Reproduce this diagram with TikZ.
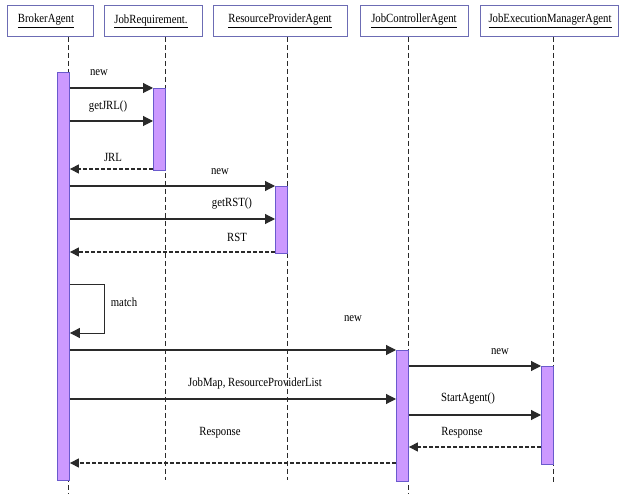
\documentclass[tikz,border=0pt]{standalone}
\usepackage{fontspec}
\setmainfont{Liberation Serif}[FakeStretch=0.86]
\usetikzlibrary{arrows.meta}
\definecolor{barfill}{HTML}{CC99FF}
\definecolor{barline}{HTML}{6A5ACD}
\definecolor{boxline}{HTML}{6C6CB4}
\definecolor{ink}{HTML}{2A2A2A}
\tikzset{
  obj/.style={draw=boxline, line width=0.9pt, fill=white, inner sep=0pt, anchor=north west},
  bar/.style={draw=barline, line width=0.9pt, fill=barfill, inner sep=0pt, anchor=north west, minimum width=12pt},
  life/.style={draw=ink, line width=0.7pt, dash pattern=on 5pt off 3pt},
  msg/.style={draw=ink, line width=1.1pt, -{Triangle[length=10pt,width=10pt]}},
  reply/.style={draw=ink, line width=1.1pt, dash pattern=on 4pt off 2pt, -{Triangle[length=9pt,width=9pt]}},
  lbl/.style={font=\fontsize{12.5}{14}\selectfont, inner sep=0pt, text=black},
}
\begin{document}
\begin{tikzpicture}[x=1pt,y=-1pt]
\useasboundingbox (0,0) rectangle (621,494);
\fill[white] (0,0) rectangle (621,494);

% object boxes
\node[obj, minimum width=86pt, minimum height=31pt] (b1) at (7,5) {};
\node[obj, minimum width=98pt, minimum height=31pt] (b2) at (104,5) {};
\node[obj, minimum width=134pt, minimum height=31pt] (b3) at (213,5) {};
\node[obj, minimum width=108pt, minimum height=31pt] (b4) at (360,5) {};
\node[obj, minimum width=138pt, minimum height=31pt] (b5) at (480,5) {};
\node[lbl] (t1) at (46,21) {\underline{BrokerAgent}};
\node[lbl] (t2) at (151,21) {\underline{JobRequirement.}};
\node[lbl] (t3) at (280,21) {\underline{ResourceProviderAgent}};
\node[lbl] (t4) at (414,21) {\underline{JobControllerAgent}};
\node[lbl] (t5) at (550,21) {\underline{JobExecutionManagerAgent}};

% lifelines
\coordinate (e1) at (68,494);
\coordinate (e2) at (165,480);
\coordinate (e3) at (287,480);
\coordinate (e4) at (408,494);
\coordinate (e5) at (553,482);
\draw[life] (b1.south -| e1) -- (e1);
\draw[life] (b2.south -| e2) -- (e2);
\draw[life] (b3.south -| e3) -- (e3);
\draw[life] (b4.south -| e4) -- (e4);
\draw[life] (b5.south -| e5) -- (e5);

% activation bars
\node[bar, minimum height=408pt] (a1) at (57,72) {};
\node[bar, minimum height=82pt] (a2) at (153,88) {};
\node[bar, minimum height=67pt] (a3) at (275,186) {};
\node[bar, minimum height=131pt] (a4) at (396,350) {};
\node[bar, minimum height=98pt] (a5) at (541,366) {};

% messages
\draw[msg] (a1.east |- 0,88) -- (a2.west |- 0,88);
\node[lbl] (m1) at (99,73) {new};
\draw[msg] (a1.east |- 0,121) -- (a2.west |- 0,121);
\node[lbl] (m2) at (108,107) {getJRL()};
\draw[reply] (a2.west |- 0,169) -- (a1.east |- 0,169);
\node[lbl] (m3) at (113,157) {JRL};
\draw[msg] (a1.east |- 0,186) -- (a3.west |- 0,186);
\node[lbl] (m4) at (220,172) {new};
\draw[msg] (a1.east |- 0,219) -- (a3.west |- 0,219);
\node[lbl] (m5) at (232,204) {getRST()};
\draw[reply] (a3.west |- 0,252) -- (a1.east |- 0,252);
\node[lbl] (m6) at (237,237) {RST};

% self call
\coordinate (k1) at (104,284);
\coordinate (k2) at (104,333);
\draw[msg, line width=0.9pt] (a1.east |- k1) -- (k1) -- (k2) -- (a1.east |- k2);
\node[lbl] (m7) at (124,302) {match};

\draw[msg] (a1.east |- 0,350) -- (a4.west |- 0,350);
\node[lbl] (m8) at (353,319) {new};
\draw[msg] (a1.east |- 0,399) -- (a4.west |- 0,399);
\node[lbl] (m9) at (255,383) {JobMap, ResourceProviderList};
\draw[reply] (a4.west |- 0,463) -- (a1.east |- 0,463);
\node[lbl] (m10) at (220,433) {Response};

\draw[msg] (a4.east |- 0,366) -- (a5.west |- 0,366);
\node[lbl] (m11) at (500,352) {new};
\draw[msg] (a4.east |- 0,415) -- (a5.west |- 0,415);
\node[lbl] (m12) at (468,399) {StartAgent()};
\draw[reply] (a5.west |- 0,447) -- (a4.east |- 0,447);
\node[lbl] (m13) at (462,433) {Response};
\end{tikzpicture}
\end{document}
